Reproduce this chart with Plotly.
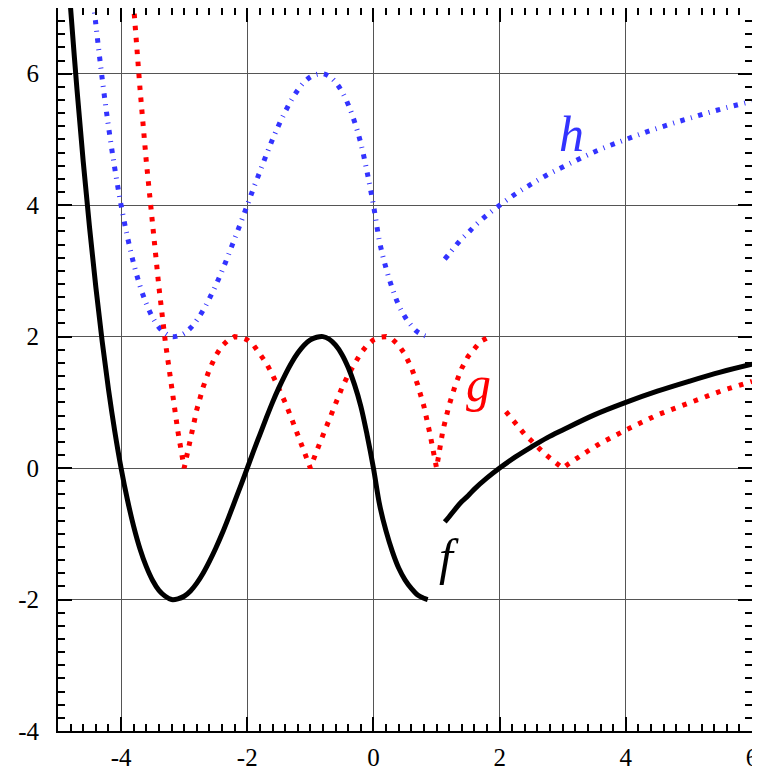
import plotly.graph_objects as go

# ---- data ----
f1_x = [-4.85, -4.8, -4.7, -4.6, -4.5, -4.4, -4.3, -4.2, -4.1, -4.0, -3.9, -3.8, -3.7, -3.6, -3.5,
        -3.4, -3.3, -3.2, -3.1, -3.0, -2.9, -2.8, -2.7, -2.6, -2.5, -2.4, -2.3, -2.2, -2.1,
        -2.0, -1.9, -1.8, -1.7, -1.6, -1.5, -1.4, -1.3, -1.2, -1.1, -1.0, -0.9, -0.8, -0.7,
        -0.6, -0.5, -0.4, -0.3, -0.2, -0.1, 0.0, 0.1, 0.2, 0.3, 0.4, 0.5, 0.6, 0.7, 0.8, 0.86]
f1_y = [7.64, 6.99, 5.77, 4.66, 3.66, 2.75, 1.93, 1.20, 0.56, 0.00, -0.48, -0.89, -1.23, -1.50, -1.71,
        -1.86, -1.95, -2.00, -1.99, -1.95, -1.87, -1.75, -1.60, -1.42, -1.22, -1.00, -0.76, -0.51, -0.26,
        0.00, 0.26, 0.51, 0.76, 1.00, 1.22, 1.42, 1.60, 1.75, 1.87, 1.95, 1.99, 2.00, 1.96,
        1.87, 1.73, 1.53, 1.27, 0.94, 0.50, 0.00, -0.57, -0.96, -1.27, -1.52, -1.70, -1.83, -1.93, -1.98, -2.00]

f2_x = [1.13, 1.2, 1.3, 1.4, 1.5, 1.6, 1.8, 2.0, 2.25, 2.5, 2.75, 3.0, 3.5, 4.0, 4.5, 5.0, 5.5, 6.0]
f2_y = [-0.82, -0.74, -0.62, -0.51, -0.42, -0.32, -0.15, 0.00, 0.17, 0.32, 0.46, 0.58, 0.81, 1.00, 1.17, 1.32, 1.46, 1.58]

g1_x = [-3.85, -3.8, -3.7, -3.6, -3.5, -3.4, -3.3, -3.2, -3.1, -3.0, -2.9, -2.8, -2.7, -2.6, -2.5,
        -2.4, -2.3, -2.2, -2.1, -2.0, -1.9, -1.8, -1.7, -1.6, -1.5, -1.4, -1.3, -1.2, -1.1,
        -1.0, -0.9, -0.8, -0.7, -0.6, -0.5, -0.4, -0.3, -0.2, -0.1, 0.0, 0.1, 0.2, 0.3,
        0.4, 0.5, 0.6, 0.7, 0.8, 0.9, 1.0, 1.1, 1.2, 1.3, 1.4, 1.5, 1.6, 1.7, 1.8, 1.86]
g1_y = [7.64, 6.99, 5.77, 4.66, 3.66, 2.75, 1.93, 1.20, 0.56, 0.00, 0.48, 0.89, 1.23, 1.50, 1.71,
        1.86, 1.95, 2.00, 1.99, 1.95, 1.87, 1.75, 1.60, 1.42, 1.22, 1.00, 0.76, 0.51, 0.26,
        0.00, 0.26, 0.51, 0.76, 1.00, 1.22, 1.42, 1.60, 1.75, 1.87, 1.95, 1.99, 2.00, 1.96,
        1.87, 1.73, 1.53, 1.27, 0.94, 0.50, 0.00, 0.57, 0.96, 1.27, 1.52, 1.70, 1.83, 1.93, 1.98, 2.00]

g2_x = [2.1, 2.2, 2.3, 2.4, 2.5, 2.6, 2.7, 2.8, 2.9, 3.0, 3.1, 3.2, 3.4, 3.6, 3.8, 4.0, 4.5, 5.0, 5.5, 6.0]
g2_y = [0.86, 0.74, 0.62, 0.51, 0.42, 0.32, 0.23, 0.15, 0.07, 0.00, 0.07, 0.14, 0.26, 0.38, 0.49, 0.58, 0.81, 1.00, 1.17, 1.32]

h1_x = [-4.5, -4.4, -4.3, -4.2, -4.1, -4.0, -3.9, -3.8, -3.7, -3.6, -3.5,
        -3.4, -3.3, -3.2, -3.1, -3.0, -2.9, -2.8, -2.7, -2.6, -2.5, -2.4, -2.3, -2.2, -2.1,
        -2.0, -1.9, -1.8, -1.7, -1.6, -1.5, -1.4, -1.3, -1.2, -1.1, -1.0, -0.9, -0.8, -0.7,
        -0.6, -0.5, -0.4, -0.3, -0.2, -0.1, 0.0, 0.1, 0.2, 0.3, 0.4, 0.5, 0.6, 0.7, 0.8, 0.86]
h1_y = [7.66, 6.75, 5.93, 5.20, 4.56, 4.00, 3.52, 3.11, 2.77, 2.50, 2.29,
        2.14, 2.05, 2.00, 2.01, 2.05, 2.13, 2.25, 2.40, 2.58, 2.78, 3.00, 3.24, 3.49, 3.74,
        4.00, 4.26, 4.51, 4.76, 5.00, 5.22, 5.42, 5.60, 5.75, 5.87, 5.95, 5.99, 6.00, 5.96,
        5.87, 5.73, 5.53, 5.27, 4.94, 4.50, 4.00, 3.43, 3.04, 2.73, 2.48, 2.30, 2.17, 2.07, 2.02, 2.00]

h2_x = [1.13, 1.2, 1.3, 1.4, 1.5, 1.6, 1.8, 2.0, 2.25, 2.5, 2.75, 3.0, 3.5, 4.0, 4.5, 5.0, 5.5, 6.0]
h2_y = [3.18, 3.26, 3.38, 3.49, 3.58, 3.68, 3.85, 4.00, 4.17, 4.32, 4.46, 4.58, 4.81, 5.00, 5.17, 5.32, 5.46, 5.58]

tick_vals = [-4, -2, 0, 2, 4, 6]
tick_text = ["-4", "-2", "0", "2", "4", "6"]

labels = [("f", 1.2, -1.35, "black"), ("g", 1.67, 1.28, "#ff0000"), ("h", 3.14, 5.09, "#3333ff")]

# ---- figure ----
BLACK = "black"
RED = "#ff0000"
BLUE = "#3333ff"
SERIF = "Liberation Serif, Times New Roman, DejaVu Serif, serif"

fig = go.Figure()
for xs, ys in [(h1_x, h1_y), (h2_x, h2_y)]:
    fig.add_trace(go.Scatter(x=xs, y=ys, mode="lines",
                             line=dict(color=BLUE, width=5, dash="4.5px,6.5px,1px,6.5px", shape="spline"),
                             showlegend=False, hoverinfo="skip"))
for xs, ys in [(g1_x, g1_y), (g2_x, g2_y)]:
    fig.add_trace(go.Scatter(x=xs, y=ys, mode="lines",
                             line=dict(color=RED, width=5, dash="4.5px,7.5px"),
                             showlegend=False, hoverinfo="skip"))
for xs, ys in [(f1_x, f1_y), (f2_x, f2_y)]:
    fig.add_trace(go.Scatter(x=xs, y=ys, mode="lines",
                             line=dict(color=BLACK, width=5, shape="spline"),
                             showlegend=False, hoverinfo="skip"))

for txt, x, y, c in labels:
    fig.add_annotation(x=x, y=y, text="<i>" + txt + "</i>", showarrow=False,
                       font=dict(family=SERIF, size=50, color=c),
                       xanchor="center", yanchor="middle")

axis_common = dict(
    tickmode="array", tickvals=tick_vals, ticktext=tick_text,
    ticks="inside", ticklen=14, tickwidth=2, tickcolor="black",
    showline=True, linewidth=2, linecolor="black", mirror="ticks",
    showgrid=True, gridcolor="#555555", gridwidth=1,
    zeroline=False, automargin=False,
    minor=dict(tick0=0, dtick=0.2, ticks="inside", ticklen=7, tickwidth=1.5,
               tickcolor="black", showgrid=False),
    tickfont=dict(family=SERIF, size=25, color="black"),
)

fig.update_xaxes(range=[-5, 6], ticklabelstandoff=3, **axis_common)
fig.update_yaxes(range=[-4, 7], ticklabelstandoff=12, **axis_common)

# the page body has an 8px default margin, so the figure is sized to fit the window
fig.update_layout(
    width=752, height=766,
    margin=dict(l=50, r=8, t=0, b=43),
    paper_bgcolor="white", plot_bgcolor="white",
    font=dict(family=SERIF),
)

fig.write_html("out.html")
